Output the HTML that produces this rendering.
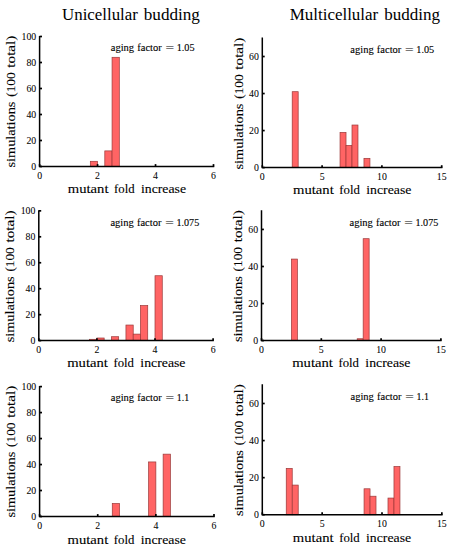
<!DOCTYPE html>
<html><head><meta charset="utf-8"><style>
html,body{margin:0;padding:0;background:#fff;width:453px;height:550px;overflow:hidden;}
svg{display:block;}
svg text{font-family:"Liberation Serif", serif;fill:#000;}
.ti{stroke:#000;stroke-width:0px} .an{stroke:#000;stroke-width:0.12px} .lb{stroke:#000;stroke-width:0.1px} .tk{stroke:#000;stroke-width:0.05px}
</style></head><body>
<svg width="453" height="550" viewBox="0 0 453 550">
<rect width="100%" height="100%" fill="#fff"/>
<rect x="90.32" y="161.30" width="7.25" height="5.20" fill="#ff6464" stroke="#9a3838" stroke-width="0.7"/>
<rect x="104.81" y="150.90" width="7.25" height="15.60" fill="#ff6464" stroke="#9a3838" stroke-width="0.7"/>
<rect x="112.06" y="57.30" width="7.25" height="109.20" fill="#ff6464" stroke="#9a3838" stroke-width="0.7"/>
<path d="M39.60 35.90 V166.50 H214.25" fill="none" stroke="#000" stroke-width="1.5"/>
<line x1="39.60" y1="166.50" x2="39.60" y2="164.10" stroke="#000" stroke-width="1.7"/>
<text x="39.60" y="178.70" class="tk" font-size="9.8" text-anchor="middle">0</text>
<line x1="97.57" y1="166.50" x2="97.57" y2="164.10" stroke="#000" stroke-width="1.7"/>
<text x="97.57" y="178.70" class="tk" font-size="9.8" text-anchor="middle">2</text>
<line x1="155.53" y1="166.50" x2="155.53" y2="164.10" stroke="#000" stroke-width="1.7"/>
<text x="155.53" y="178.70" class="tk" font-size="9.8" text-anchor="middle">4</text>
<line x1="213.50" y1="166.50" x2="213.50" y2="164.10" stroke="#000" stroke-width="1.7"/>
<text x="213.50" y="178.70" class="tk" font-size="9.8" text-anchor="middle">6</text>
<line x1="39.60" y1="166.50" x2="42.00" y2="166.50" stroke="#000" stroke-width="1.7"/>
<text x="36.20" y="169.60" class="tk" font-size="9.8" text-anchor="end">0</text>
<line x1="39.60" y1="140.50" x2="42.00" y2="140.50" stroke="#000" stroke-width="1.7"/>
<text x="36.20" y="143.60" class="tk" font-size="9.8" text-anchor="end">20</text>
<line x1="39.60" y1="114.50" x2="42.00" y2="114.50" stroke="#000" stroke-width="1.7"/>
<text x="36.20" y="117.60" class="tk" font-size="9.8" text-anchor="end">40</text>
<line x1="39.60" y1="88.50" x2="42.00" y2="88.50" stroke="#000" stroke-width="1.7"/>
<text x="36.20" y="91.60" class="tk" font-size="9.8" text-anchor="end">60</text>
<line x1="39.60" y1="62.50" x2="42.00" y2="62.50" stroke="#000" stroke-width="1.7"/>
<text x="36.20" y="65.60" class="tk" font-size="9.8" text-anchor="end">80</text>
<line x1="39.60" y1="36.50" x2="42.00" y2="36.50" stroke="#000" stroke-width="1.7"/>
<text x="36.20" y="39.60" class="tk" font-size="9.8" text-anchor="end">100</text>
<rect x="89.64" y="339.30" width="7.26" height="1.30" fill="#ff6464" stroke="#9a3838" stroke-width="0.7"/>
<rect x="96.90" y="338.00" width="7.26" height="2.60" fill="#ff6464" stroke="#9a3838" stroke-width="0.7"/>
<rect x="111.42" y="336.71" width="7.26" height="3.89" fill="#ff6464" stroke="#9a3838" stroke-width="0.7"/>
<rect x="125.95" y="325.03" width="7.26" height="15.57" fill="#ff6464" stroke="#9a3838" stroke-width="0.7"/>
<rect x="133.21" y="334.11" width="7.26" height="6.49" fill="#ff6464" stroke="#9a3838" stroke-width="0.7"/>
<rect x="140.47" y="305.57" width="7.26" height="35.03" fill="#ff6464" stroke="#9a3838" stroke-width="0.7"/>
<rect x="155.00" y="275.73" width="7.26" height="64.88" fill="#ff6464" stroke="#9a3838" stroke-width="0.7"/>
<path d="M38.80 210.25 V340.60 H213.85" fill="none" stroke="#000" stroke-width="1.5"/>
<line x1="38.80" y1="340.60" x2="38.80" y2="338.20" stroke="#000" stroke-width="1.7"/>
<text x="38.80" y="352.80" class="tk" font-size="9.8" text-anchor="middle">0</text>
<line x1="96.90" y1="340.60" x2="96.90" y2="338.20" stroke="#000" stroke-width="1.7"/>
<text x="96.90" y="352.80" class="tk" font-size="9.8" text-anchor="middle">2</text>
<line x1="155.00" y1="340.60" x2="155.00" y2="338.20" stroke="#000" stroke-width="1.7"/>
<text x="155.00" y="352.80" class="tk" font-size="9.8" text-anchor="middle">4</text>
<line x1="213.10" y1="340.60" x2="213.10" y2="338.20" stroke="#000" stroke-width="1.7"/>
<text x="213.10" y="352.80" class="tk" font-size="9.8" text-anchor="middle">6</text>
<line x1="38.80" y1="340.60" x2="41.20" y2="340.60" stroke="#000" stroke-width="1.7"/>
<text x="35.40" y="343.70" class="tk" font-size="9.8" text-anchor="end">0</text>
<line x1="38.80" y1="314.65" x2="41.20" y2="314.65" stroke="#000" stroke-width="1.7"/>
<text x="35.40" y="317.75" class="tk" font-size="9.8" text-anchor="end">20</text>
<line x1="38.80" y1="288.70" x2="41.20" y2="288.70" stroke="#000" stroke-width="1.7"/>
<text x="35.40" y="291.80" class="tk" font-size="9.8" text-anchor="end">40</text>
<line x1="38.80" y1="262.75" x2="41.20" y2="262.75" stroke="#000" stroke-width="1.7"/>
<text x="35.40" y="265.85" class="tk" font-size="9.8" text-anchor="end">60</text>
<line x1="38.80" y1="236.80" x2="41.20" y2="236.80" stroke="#000" stroke-width="1.7"/>
<text x="35.40" y="239.90" class="tk" font-size="9.8" text-anchor="end">80</text>
<line x1="38.80" y1="210.85" x2="41.20" y2="210.85" stroke="#000" stroke-width="1.7"/>
<text x="35.40" y="213.95" class="tk" font-size="9.8" text-anchor="end">100</text>
<rect x="112.27" y="503.51" width="7.27" height="12.99" fill="#ff6464" stroke="#9a3838" stroke-width="0.7"/>
<rect x="148.60" y="461.94" width="7.27" height="54.56" fill="#ff6464" stroke="#9a3838" stroke-width="0.7"/>
<rect x="163.13" y="454.15" width="7.27" height="62.35" fill="#ff6464" stroke="#9a3838" stroke-width="0.7"/>
<path d="M39.60 386.00 V516.50 H214.75" fill="none" stroke="#000" stroke-width="1.5"/>
<line x1="39.60" y1="516.50" x2="39.60" y2="514.10" stroke="#000" stroke-width="1.7"/>
<text x="39.60" y="528.70" class="tk" font-size="9.8" text-anchor="middle">0</text>
<line x1="97.73" y1="516.50" x2="97.73" y2="514.10" stroke="#000" stroke-width="1.7"/>
<text x="97.73" y="528.70" class="tk" font-size="9.8" text-anchor="middle">2</text>
<line x1="155.87" y1="516.50" x2="155.87" y2="514.10" stroke="#000" stroke-width="1.7"/>
<text x="155.87" y="528.70" class="tk" font-size="9.8" text-anchor="middle">4</text>
<line x1="214.00" y1="516.50" x2="214.00" y2="514.10" stroke="#000" stroke-width="1.7"/>
<text x="214.00" y="528.70" class="tk" font-size="9.8" text-anchor="middle">6</text>
<line x1="39.60" y1="516.50" x2="42.00" y2="516.50" stroke="#000" stroke-width="1.7"/>
<text x="36.20" y="519.60" class="tk" font-size="9.8" text-anchor="end">0</text>
<line x1="39.60" y1="490.52" x2="42.00" y2="490.52" stroke="#000" stroke-width="1.7"/>
<text x="36.20" y="493.62" class="tk" font-size="9.8" text-anchor="end">20</text>
<line x1="39.60" y1="464.54" x2="42.00" y2="464.54" stroke="#000" stroke-width="1.7"/>
<text x="36.20" y="467.64" class="tk" font-size="9.8" text-anchor="end">40</text>
<line x1="39.60" y1="438.56" x2="42.00" y2="438.56" stroke="#000" stroke-width="1.7"/>
<text x="36.20" y="441.66" class="tk" font-size="9.8" text-anchor="end">60</text>
<line x1="39.60" y1="412.58" x2="42.00" y2="412.58" stroke="#000" stroke-width="1.7"/>
<text x="36.20" y="415.68" class="tk" font-size="9.8" text-anchor="end">80</text>
<line x1="39.60" y1="386.60" x2="42.00" y2="386.60" stroke="#000" stroke-width="1.7"/>
<text x="36.20" y="389.70" class="tk" font-size="9.8" text-anchor="end">100</text>
<rect x="292.20" y="91.69" width="5.98" height="75.91" fill="#ff6464" stroke="#9a3838" stroke-width="0.7"/>
<rect x="340.04" y="132.42" width="5.98" height="35.18" fill="#ff6464" stroke="#9a3838" stroke-width="0.7"/>
<rect x="346.02" y="145.38" width="5.98" height="22.22" fill="#ff6464" stroke="#9a3838" stroke-width="0.7"/>
<rect x="352.00" y="125.02" width="5.98" height="42.58" fill="#ff6464" stroke="#9a3838" stroke-width="0.7"/>
<rect x="363.96" y="158.34" width="5.98" height="9.26" fill="#ff6464" stroke="#9a3838" stroke-width="0.7"/>
<path d="M262.30 37.40 V167.60 H442.45" fill="none" stroke="#000" stroke-width="1.5"/>
<line x1="262.30" y1="167.60" x2="262.30" y2="165.20" stroke="#000" stroke-width="1.7"/>
<text x="262.30" y="179.80" class="tk" font-size="9.8" text-anchor="middle">0</text>
<line x1="322.10" y1="167.60" x2="322.10" y2="165.20" stroke="#000" stroke-width="1.7"/>
<text x="322.10" y="179.80" class="tk" font-size="9.8" text-anchor="middle">5</text>
<line x1="381.90" y1="167.60" x2="381.90" y2="165.20" stroke="#000" stroke-width="1.7"/>
<text x="381.90" y="179.80" class="tk" font-size="9.8" text-anchor="middle">10</text>
<line x1="441.70" y1="167.60" x2="441.70" y2="165.20" stroke="#000" stroke-width="1.7"/>
<text x="441.70" y="179.80" class="tk" font-size="9.8" text-anchor="middle">15</text>
<line x1="262.30" y1="167.60" x2="264.70" y2="167.60" stroke="#000" stroke-width="1.7"/>
<text x="258.90" y="170.70" class="tk" font-size="9.8" text-anchor="end">0</text>
<line x1="262.30" y1="130.57" x2="264.70" y2="130.57" stroke="#000" stroke-width="1.7"/>
<text x="258.90" y="133.67" class="tk" font-size="9.8" text-anchor="end">20</text>
<line x1="262.30" y1="93.54" x2="264.70" y2="93.54" stroke="#000" stroke-width="1.7"/>
<text x="258.90" y="96.64" class="tk" font-size="9.8" text-anchor="end">40</text>
<line x1="262.30" y1="56.51" x2="264.70" y2="56.51" stroke="#000" stroke-width="1.7"/>
<text x="258.90" y="59.61" class="tk" font-size="9.8" text-anchor="end">60</text>
<rect x="291.40" y="259.07" width="5.98" height="81.53" fill="#ff6464" stroke="#9a3838" stroke-width="0.7"/>
<rect x="357.18" y="338.75" width="5.98" height="1.85" fill="#ff6464" stroke="#9a3838" stroke-width="0.7"/>
<rect x="363.16" y="238.69" width="5.98" height="101.91" fill="#ff6464" stroke="#9a3838" stroke-width="0.7"/>
<path d="M261.50 210.30 V340.60 H441.65" fill="none" stroke="#000" stroke-width="1.5"/>
<line x1="261.50" y1="340.60" x2="261.50" y2="338.20" stroke="#000" stroke-width="1.7"/>
<text x="261.50" y="352.80" class="tk" font-size="9.8" text-anchor="middle">0</text>
<line x1="321.30" y1="340.60" x2="321.30" y2="338.20" stroke="#000" stroke-width="1.7"/>
<text x="321.30" y="352.80" class="tk" font-size="9.8" text-anchor="middle">5</text>
<line x1="381.10" y1="340.60" x2="381.10" y2="338.20" stroke="#000" stroke-width="1.7"/>
<text x="381.10" y="352.80" class="tk" font-size="9.8" text-anchor="middle">10</text>
<line x1="440.90" y1="340.60" x2="440.90" y2="338.20" stroke="#000" stroke-width="1.7"/>
<text x="440.90" y="352.80" class="tk" font-size="9.8" text-anchor="middle">15</text>
<line x1="261.50" y1="340.60" x2="263.90" y2="340.60" stroke="#000" stroke-width="1.7"/>
<text x="258.10" y="343.70" class="tk" font-size="9.8" text-anchor="end">0</text>
<line x1="261.50" y1="303.54" x2="263.90" y2="303.54" stroke="#000" stroke-width="1.7"/>
<text x="258.10" y="306.64" class="tk" font-size="9.8" text-anchor="end">20</text>
<line x1="261.50" y1="266.49" x2="263.90" y2="266.49" stroke="#000" stroke-width="1.7"/>
<text x="258.10" y="269.59" class="tk" font-size="9.8" text-anchor="end">40</text>
<line x1="261.50" y1="229.43" x2="263.90" y2="229.43" stroke="#000" stroke-width="1.7"/>
<text x="258.10" y="232.53" class="tk" font-size="9.8" text-anchor="end">60</text>
<rect x="286.24" y="468.39" width="5.99" height="46.36" fill="#ff6464" stroke="#9a3838" stroke-width="0.7"/>
<rect x="292.23" y="485.08" width="5.99" height="29.67" fill="#ff6464" stroke="#9a3838" stroke-width="0.7"/>
<rect x="364.05" y="488.79" width="5.99" height="25.96" fill="#ff6464" stroke="#9a3838" stroke-width="0.7"/>
<rect x="370.03" y="496.21" width="5.98" height="18.54" fill="#ff6464" stroke="#9a3838" stroke-width="0.7"/>
<rect x="387.99" y="498.06" width="5.99" height="16.69" fill="#ff6464" stroke="#9a3838" stroke-width="0.7"/>
<rect x="393.97" y="466.54" width="5.99" height="48.21" fill="#ff6464" stroke="#9a3838" stroke-width="0.7"/>
<path d="M262.30 384.35 V514.75 H442.60" fill="none" stroke="#000" stroke-width="1.5"/>
<line x1="262.30" y1="514.75" x2="262.30" y2="512.35" stroke="#000" stroke-width="1.7"/>
<text x="262.30" y="526.95" class="tk" font-size="9.8" text-anchor="middle">0</text>
<line x1="322.15" y1="514.75" x2="322.15" y2="512.35" stroke="#000" stroke-width="1.7"/>
<text x="322.15" y="526.95" class="tk" font-size="9.8" text-anchor="middle">5</text>
<line x1="382.00" y1="514.75" x2="382.00" y2="512.35" stroke="#000" stroke-width="1.7"/>
<text x="382.00" y="526.95" class="tk" font-size="9.8" text-anchor="middle">10</text>
<line x1="441.85" y1="514.75" x2="441.85" y2="512.35" stroke="#000" stroke-width="1.7"/>
<text x="441.85" y="526.95" class="tk" font-size="9.8" text-anchor="middle">15</text>
<line x1="262.30" y1="514.75" x2="264.70" y2="514.75" stroke="#000" stroke-width="1.7"/>
<text x="258.90" y="517.85" class="tk" font-size="9.8" text-anchor="end">0</text>
<line x1="262.30" y1="477.66" x2="264.70" y2="477.66" stroke="#000" stroke-width="1.7"/>
<text x="258.90" y="480.76" class="tk" font-size="9.8" text-anchor="end">20</text>
<line x1="262.30" y1="440.58" x2="264.70" y2="440.58" stroke="#000" stroke-width="1.7"/>
<text x="258.90" y="443.68" class="tk" font-size="9.8" text-anchor="end">40</text>
<line x1="262.30" y1="403.49" x2="264.70" y2="403.49" stroke="#000" stroke-width="1.7"/>
<text x="258.90" y="406.59" class="tk" font-size="9.8" text-anchor="end">60</text>
<text class="ti" x="62.05" y="20.44" font-size="17.4" textLength="75.80" lengthAdjust="spacingAndGlyphs">Unicellular</text>
<text class="ti" x="143.80" y="20.44" font-size="17.4" textLength="56.13" lengthAdjust="spacingAndGlyphs">budding</text>
<text class="ti" x="289.71" y="20.34" font-size="17.4" textLength="88.54" lengthAdjust="spacingAndGlyphs">Multicellular</text>
<text class="ti" x="384.20" y="20.34" font-size="17.4" textLength="55.72" lengthAdjust="spacingAndGlyphs">budding</text>
<text class="an" x="110.73" y="50.68" font-size="10.2" textLength="23.37" lengthAdjust="spacingAndGlyphs">aging</text>
<text class="an" x="137.28" y="50.68" font-size="10.2" textLength="24.41" lengthAdjust="spacingAndGlyphs">factor</text>
<text class="an" x="165.54" y="50.68" font-size="10.2" textLength="8.61" lengthAdjust="spacingAndGlyphs">=</text>
<text class="an" x="176.70" y="50.68" font-size="10.2" textLength="17.90" lengthAdjust="spacingAndGlyphs">1.05</text>
<text class="an" x="110.43" y="225.71" font-size="10.2" textLength="23.37" lengthAdjust="spacingAndGlyphs">aging</text>
<text class="an" x="136.98" y="225.71" font-size="10.2" textLength="24.41" lengthAdjust="spacingAndGlyphs">factor</text>
<text class="an" x="165.24" y="225.71" font-size="10.2" textLength="8.61" lengthAdjust="spacingAndGlyphs">=</text>
<text class="an" x="176.41" y="225.71" font-size="10.2" textLength="22.79" lengthAdjust="spacingAndGlyphs">1.075</text>
<text class="an" x="110.73" y="401.34" font-size="10.2" textLength="23.37" lengthAdjust="spacingAndGlyphs">aging</text>
<text class="an" x="137.28" y="401.34" font-size="10.2" textLength="24.41" lengthAdjust="spacingAndGlyphs">factor</text>
<text class="an" x="165.54" y="401.34" font-size="10.2" textLength="8.61" lengthAdjust="spacingAndGlyphs">=</text>
<text class="an" x="176.73" y="401.34" font-size="10.2" textLength="12.37" lengthAdjust="spacingAndGlyphs">1.1</text>
<text class="an" x="350.33" y="53.26" font-size="10.2" textLength="23.37" lengthAdjust="spacingAndGlyphs">aging</text>
<text class="an" x="376.88" y="53.26" font-size="10.2" textLength="24.41" lengthAdjust="spacingAndGlyphs">factor</text>
<text class="an" x="405.14" y="53.26" font-size="10.2" textLength="8.61" lengthAdjust="spacingAndGlyphs">=</text>
<text class="an" x="416.30" y="53.26" font-size="10.2" textLength="17.90" lengthAdjust="spacingAndGlyphs">1.05</text>
<text class="an" x="349.53" y="225.67" font-size="10.2" textLength="23.37" lengthAdjust="spacingAndGlyphs">aging</text>
<text class="an" x="376.08" y="225.67" font-size="10.2" textLength="24.41" lengthAdjust="spacingAndGlyphs">factor</text>
<text class="an" x="404.34" y="225.67" font-size="10.2" textLength="8.61" lengthAdjust="spacingAndGlyphs">=</text>
<text class="an" x="415.51" y="225.67" font-size="10.2" textLength="22.79" lengthAdjust="spacingAndGlyphs">1.075</text>
<text class="an" x="350.53" y="399.67" font-size="10.2" textLength="23.37" lengthAdjust="spacingAndGlyphs">aging</text>
<text class="an" x="377.08" y="399.67" font-size="10.2" textLength="24.41" lengthAdjust="spacingAndGlyphs">factor</text>
<text class="an" x="405.34" y="399.67" font-size="10.2" textLength="8.61" lengthAdjust="spacingAndGlyphs">=</text>
<text class="an" x="416.53" y="399.67" font-size="10.2" textLength="12.37" lengthAdjust="spacingAndGlyphs">1.1</text>
<text class="lb" x="67.79" y="192.92" font-size="12.1" textLength="40.69" lengthAdjust="spacingAndGlyphs">mutant</text>
<text class="lb" x="114.06" y="192.92" font-size="12.1" textLength="20.55" lengthAdjust="spacingAndGlyphs">fold</text>
<text class="lb" x="140.96" y="192.92" font-size="12.1" textLength="45.12" lengthAdjust="spacingAndGlyphs">increase</text>
<text class="lb" x="67.19" y="366.92" font-size="12.1" textLength="40.69" lengthAdjust="spacingAndGlyphs">mutant</text>
<text class="lb" x="113.46" y="366.92" font-size="12.1" textLength="20.55" lengthAdjust="spacingAndGlyphs">fold</text>
<text class="lb" x="140.36" y="366.92" font-size="12.1" textLength="45.12" lengthAdjust="spacingAndGlyphs">increase</text>
<text class="lb" x="67.59" y="544.13" font-size="12.1" textLength="40.69" lengthAdjust="spacingAndGlyphs">mutant</text>
<text class="lb" x="113.86" y="544.13" font-size="12.1" textLength="20.55" lengthAdjust="spacingAndGlyphs">fold</text>
<text class="lb" x="140.76" y="544.13" font-size="12.1" textLength="45.12" lengthAdjust="spacingAndGlyphs">increase</text>
<text class="lb" x="293.09" y="194.32" font-size="12.1" textLength="40.69" lengthAdjust="spacingAndGlyphs">mutant</text>
<text class="lb" x="339.36" y="194.32" font-size="12.1" textLength="20.55" lengthAdjust="spacingAndGlyphs">fold</text>
<text class="lb" x="366.26" y="194.32" font-size="12.1" textLength="45.12" lengthAdjust="spacingAndGlyphs">increase</text>
<text class="lb" x="292.19" y="367.03" font-size="12.1" textLength="40.69" lengthAdjust="spacingAndGlyphs">mutant</text>
<text class="lb" x="338.46" y="367.03" font-size="12.1" textLength="20.55" lengthAdjust="spacingAndGlyphs">fold</text>
<text class="lb" x="365.36" y="367.03" font-size="12.1" textLength="45.12" lengthAdjust="spacingAndGlyphs">increase</text>
<text class="lb" x="292.89" y="541.96" font-size="12.1" textLength="40.69" lengthAdjust="spacingAndGlyphs">mutant</text>
<text class="lb" x="339.16" y="541.96" font-size="12.1" textLength="20.55" lengthAdjust="spacingAndGlyphs">fold</text>
<text class="lb" x="366.06" y="541.96" font-size="12.1" textLength="45.12" lengthAdjust="spacingAndGlyphs">increase</text>
<text class="lb" transform="translate(15.02,167.49) rotate(-90)" font-size="12.1" textLength="65.90" lengthAdjust="spacingAndGlyphs">simulations</text>
<text class="lb" transform="translate(15.02,96.78) rotate(-90)" font-size="12.1" textLength="24.29" lengthAdjust="spacingAndGlyphs">(100</text>
<text class="lb" transform="translate(15.02,67.65) rotate(-90)" font-size="12.1" textLength="32.01" lengthAdjust="spacingAndGlyphs">total)</text>
<text class="lb" transform="translate(14.23,342.29) rotate(-90)" font-size="12.1" textLength="65.90" lengthAdjust="spacingAndGlyphs">simulations</text>
<text class="lb" transform="translate(14.23,271.58) rotate(-90)" font-size="12.1" textLength="24.29" lengthAdjust="spacingAndGlyphs">(100</text>
<text class="lb" transform="translate(14.23,242.45) rotate(-90)" font-size="12.1" textLength="32.01" lengthAdjust="spacingAndGlyphs">total)</text>
<text class="lb" transform="translate(15.43,517.59) rotate(-90)" font-size="12.1" textLength="65.90" lengthAdjust="spacingAndGlyphs">simulations</text>
<text class="lb" transform="translate(15.43,446.88) rotate(-90)" font-size="12.1" textLength="24.29" lengthAdjust="spacingAndGlyphs">(100</text>
<text class="lb" transform="translate(15.43,417.75) rotate(-90)" font-size="12.1" textLength="32.01" lengthAdjust="spacingAndGlyphs">total)</text>
<text class="lb" transform="translate(242.73,169.49) rotate(-90)" font-size="12.1" textLength="65.90" lengthAdjust="spacingAndGlyphs">simulations</text>
<text class="lb" transform="translate(242.73,98.78) rotate(-90)" font-size="12.1" textLength="24.29" lengthAdjust="spacingAndGlyphs">(100</text>
<text class="lb" transform="translate(242.73,69.65) rotate(-90)" font-size="12.1" textLength="32.01" lengthAdjust="spacingAndGlyphs">total)</text>
<text class="lb" transform="translate(242.13,342.09) rotate(-90)" font-size="12.1" textLength="65.90" lengthAdjust="spacingAndGlyphs">simulations</text>
<text class="lb" transform="translate(242.13,271.38) rotate(-90)" font-size="12.1" textLength="24.29" lengthAdjust="spacingAndGlyphs">(100</text>
<text class="lb" transform="translate(242.13,242.25) rotate(-90)" font-size="12.1" textLength="32.01" lengthAdjust="spacingAndGlyphs">total)</text>
<text class="lb" transform="translate(243.13,515.99) rotate(-90)" font-size="12.1" textLength="65.90" lengthAdjust="spacingAndGlyphs">simulations</text>
<text class="lb" transform="translate(243.13,445.28) rotate(-90)" font-size="12.1" textLength="24.29" lengthAdjust="spacingAndGlyphs">(100</text>
<text class="lb" transform="translate(243.13,416.15) rotate(-90)" font-size="12.1" textLength="32.01" lengthAdjust="spacingAndGlyphs">total)</text>
</svg>
</body></html>
